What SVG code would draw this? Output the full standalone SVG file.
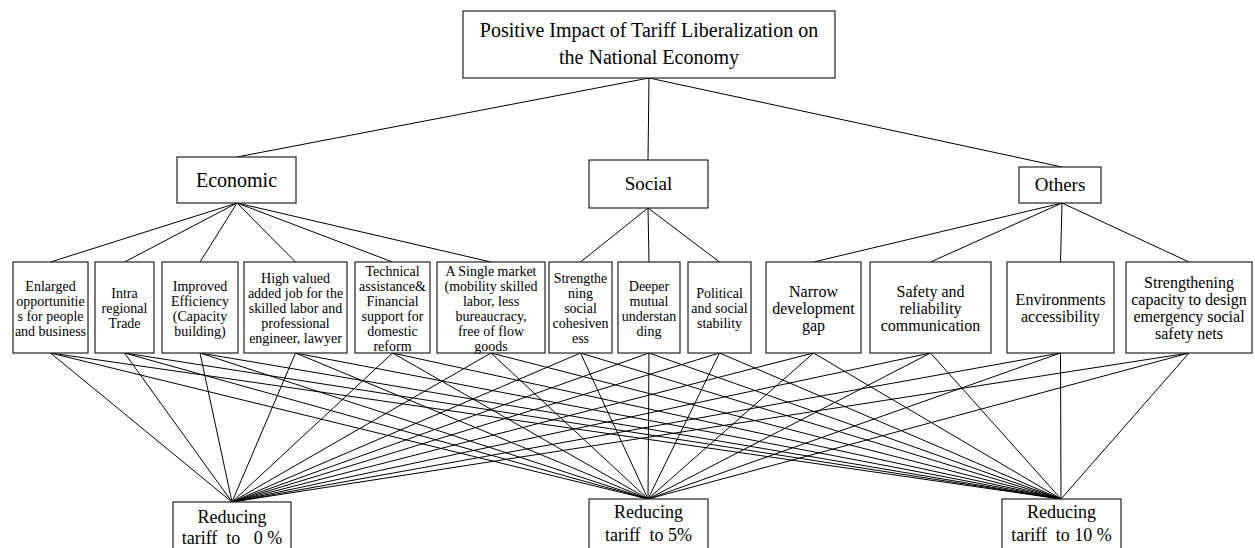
<svg xmlns="http://www.w3.org/2000/svg" width="1255" height="548" viewBox="0 0 1255 548">
<style>
.box{fill:#fff;stroke:#222;stroke-width:1.2}
.ln{stroke:#000;stroke-width:1;fill:none}
text{font-family:"Liberation Serif","Times New Roman",serif;fill:#000;text-anchor:middle}
.t14{font-size:14px}
.t16{font-size:16px}
.t18{font-size:18px;white-space:pre}
.t19{font-size:19px}
.t20{font-size:20px}
</style>
<rect width="1255" height="548" fill="#fff"/>
<g id="connectors">
<line class="ln" x1="649" y1="78" x2="237" y2="157"/>
<line class="ln" x1="649" y1="78" x2="648" y2="160"/>
<line class="ln" x1="649" y1="78" x2="1062" y2="167"/>
<line class="ln" x1="237" y1="203" x2="50.5" y2="262"/>
<line class="ln" x1="237" y1="203" x2="124.5" y2="262"/>
<line class="ln" x1="237" y1="203" x2="200" y2="262"/>
<line class="ln" x1="237" y1="203" x2="295.5" y2="262"/>
<line class="ln" x1="237" y1="203" x2="392.5" y2="262"/>
<line class="ln" x1="237" y1="203" x2="491" y2="262"/>
<line class="ln" x1="648" y1="208" x2="580.5" y2="262"/>
<line class="ln" x1="648" y1="208" x2="649" y2="262"/>
<line class="ln" x1="648" y1="208" x2="719.5" y2="262"/>
<line class="ln" x1="1062" y1="203" x2="813.5" y2="262"/>
<line class="ln" x1="1062" y1="203" x2="930.5" y2="262"/>
<line class="ln" x1="1062" y1="203" x2="1060.5" y2="262"/>
<line class="ln" x1="1062" y1="203" x2="1189" y2="262"/>
<g id="bottom-links">
<path class="ln" d="M50.5 353L232 502M50.5 353L648 499M50.5 353L1061 499"/>
<path class="ln" d="M124.5 353L232 502M124.5 353L648 499M124.5 353L1061 499"/>
<path class="ln" d="M200 353L232 502M200 353L648 499M200 353L1061 499"/>
<path class="ln" d="M295.5 353L232 502M295.5 353L648 499M295.5 353L1061 499"/>
<path class="ln" d="M392.5 353L232 502M392.5 353L648 499M392.5 353L1061 499"/>
<path class="ln" d="M491 353L232 502M491 353L648 499M491 353L1061 499"/>
<path class="ln" d="M580.5 353L232 502M580.5 353L648 499M580.5 353L1061 499"/>
<path class="ln" d="M649 353L232 502M649 353L648 499M649 353L1061 499"/>
<path class="ln" d="M719.5 353L232 502M719.5 353L648 499M719.5 353L1061 499"/>
<path class="ln" d="M813.5 353L232 502M813.5 353L648 499M813.5 353L1061 499"/>
<path class="ln" d="M930.5 353L232 502M930.5 353L648 499M930.5 353L1061 499"/>
<path class="ln" d="M1060.5 353L232 502M1060.5 353L648 499M1060.5 353L1061 499"/>
<path class="ln" d="M1189 353L232 502M1189 353L648 499M1189 353L1061 499"/>
</g>
</g>
<g id="root">
<rect class="box" x="463" y="11" width="372" height="67"/>
<text class="t20" x="649" y="37">Positive Impact of Tariff Liberalization on</text>
<text class="t20" x="649" y="64">the National Economy</text>
</g>
<g id="economic">
<rect class="box" x="177" y="157" width="119" height="46"/>
<text class="t20" x="236.5" y="187">Economic</text>
</g>
<g id="social">
<rect class="box" x="589" y="160" width="119" height="48"/>
<text class="t19" x="648.5" y="190">Social</text>
</g>
<g id="others">
<rect class="box" x="1019" y="167" width="82" height="36"/>
<text class="t19" x="1060" y="191">Others</text>
</g>
<g id="leaf1">
<rect class="box" x="13" y="262" width="75" height="91"/>
<text class="t14" x="50.5" y="290.5">Enlarged<tspan x="50.5" dy="15">opportunitie</tspan><tspan x="50.5" dy="15">s for people</tspan><tspan x="50.5" dy="15">and business</tspan></text>
</g>
<g id="leaf2">
<rect class="box" x="95" y="262" width="59" height="91"/>
<text class="t14" x="124.5" y="298">Intra<tspan x="124.5" dy="15">regional</tspan><tspan x="124.5" dy="15">Trade</tspan></text>
</g>
<g id="leaf3">
<rect class="box" x="162" y="262" width="76" height="91"/>
<text class="t14" x="200" y="290.5">Improved<tspan x="200" dy="15">Efficiency</tspan><tspan x="200" dy="15">(Capacity</tspan><tspan x="200" dy="15">building)</tspan></text>
</g>
<g id="leaf4">
<rect class="box" x="244" y="262" width="103" height="91"/>
<text class="t14" x="295.5" y="283">High valued<tspan x="295.5" dy="15">added job for the</tspan><tspan x="295.5" dy="15">skilled labor and</tspan><tspan x="295.5" dy="15">professional</tspan><tspan x="295.5" dy="15">engineer, lawyer</tspan></text>
</g>
<g id="leaf5">
<rect class="box" x="355" y="262" width="75" height="91"/>
<text class="t14" x="392.5" y="275.5">Technical<tspan x="392.5" dy="15">assistance&amp;</tspan><tspan x="392.5" dy="15">Financial</tspan><tspan x="392.5" dy="15">support for</tspan><tspan x="392.5" dy="15">domestic</tspan><tspan x="392.5" dy="15">reform</tspan></text>
</g>
<g id="leaf6">
<rect class="box" x="437" y="262" width="108" height="91"/>
<text class="t14" x="491" y="275.5">A Single market<tspan x="491" dy="15">(mobility skilled</tspan><tspan x="491" dy="15">labor, less</tspan><tspan x="491" dy="15">bureaucracy,</tspan><tspan x="491" dy="15">free of flow</tspan><tspan x="491" dy="15">goods</tspan></text>
</g>
<g id="leaf7">
<rect class="box" x="549" y="262" width="63" height="91"/>
<text class="t14" x="580.5" y="283">Strengthe<tspan x="580.5" dy="15">ning</tspan><tspan x="580.5" dy="15">social</tspan><tspan x="580.5" dy="15">cohesiven</tspan><tspan x="580.5" dy="15">ess</tspan></text>
</g>
<g id="leaf8">
<rect class="box" x="618" y="262" width="62" height="91"/>
<text class="t14" x="649" y="290.5">Deeper<tspan x="649" dy="15">mutual</tspan><tspan x="649" dy="15">understan</tspan><tspan x="649" dy="15">ding</tspan></text>
</g>
<g id="leaf9">
<rect class="box" x="688" y="262" width="63" height="91"/>
<text class="t14" x="719.5" y="298">Political<tspan x="719.5" dy="15">and social</tspan><tspan x="719.5" dy="15">stability</tspan></text>
</g>
<g id="leaf10">
<rect class="box" x="766" y="262" width="95" height="91"/>
<text class="t16" x="813.5" y="296.5">Narrow<tspan x="813.5" dy="17">development</tspan><tspan x="813.5" dy="17">gap</tspan></text>
</g>
<g id="leaf11">
<rect class="box" x="870" y="262" width="121" height="91"/>
<text class="t16" x="930.5" y="296.5">Safety and<tspan x="930.5" dy="17">reliability</tspan><tspan x="930.5" dy="17">communication</tspan></text>
</g>
<g id="leaf12">
<rect class="box" x="1007" y="262" width="107" height="91"/>
<text class="t16" x="1060.5" y="305">Environments<tspan x="1060.5" dy="17">accessibility</tspan></text>
</g>
<g id="leaf13">
<rect class="box" x="1126" y="262" width="126" height="91"/>
<text class="t16" x="1189" y="288">Strengthening<tspan x="1189" dy="17">capacity to design</tspan><tspan x="1189" dy="17">emergency social</tspan><tspan x="1189" dy="17">safety nets</tspan></text>
</g>
<g id="target1">
<rect class="box" x="173" y="502" width="118" height="60"/>
<text class="t18" x="232" y="523">Reducing</text>
<text class="t18" x="232" y="544" xml:space="preserve">tariff  to   0 %</text>
</g>
<g id="target2">
<rect class="box" x="589" y="499" width="119" height="60"/>
<text class="t18" x="648.5" y="518">Reducing</text>
<text class="t18" x="648.5" y="541" xml:space="preserve">tariff  to 5%</text>
</g>
<g id="target3">
<rect class="box" x="1002" y="499" width="119" height="60"/>
<text class="t18" x="1061.5" y="518">Reducing</text>
<text class="t18" x="1061.5" y="541" xml:space="preserve">tariff  to 10 %</text>
</g>
</svg>
